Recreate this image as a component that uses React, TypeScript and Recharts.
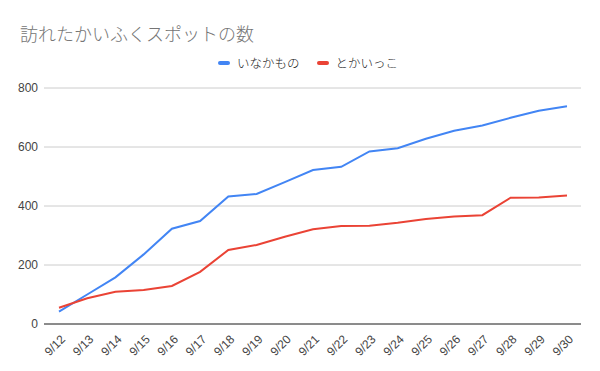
import { LineChart, Line, XAxis, YAxis, CartesianGrid } from "recharts";

const days = ["9/12", "9/13", "9/14", "9/15", "9/16", "9/17", "9/18", "9/19", "9/20", "9/21", "9/22", "9/23", "9/24", "9/25", "9/26", "9/27", "9/28", "9/29", "9/30"];
const inakamono = [42, 100, 158, 236, 323, 349, 432, 441, 481, 522, 533, 585, 596, 628, 655, 673, 699, 723, 738];
const tokaikko = [55, 87, 109, 115, 129, 177, 251, 268, 296, 321, 332, 333, 343, 356, 364, 369, 428, 429, 436];
const yTicks = [0, 200, 400, 600, 800];

const series = [
  { key: "inakamono", name: "いなかもの", color: "#4285F4" },
  { key: "tokaikko", name: "とかいっこ", color: "#EA4335" },
];

const data = days.map((d, i) => ({ day: d, inakamono: inakamono[i], tokaikko: tokaikko[i] }));

const font = "Roboto, 'Noto Sans CJK JP', sans-serif";
const axisFont = "'Liberation Sans', Arial, sans-serif";

function DayTick({ x, y, payload }: any) {
  return (
    <g transform={`translate(${x + 7},${y + 8})`}>
      <text textAnchor="end" transform="rotate(-45)" fontSize={12} fill="#444" fontFamily={axisFont}>
        {payload.value}
      </text>
    </g>
  );
}

export default function App() {
  return (
    <div style={{ position: "absolute", left: 0, top: 0, width: 600, height: 371, background: "#fff", fontFamily: font }}>
      <div style={{ position: "absolute", left: 20, top: 20, fontSize: 18, color: "#757575", fontWeight: 300 }}>訪れたかいふくスポットの数</div>
      <div style={{ position: "absolute", left: 218, top: 53, display: "flex", alignItems: "center", fontSize: 12.5, color: "#222", fontWeight: 300 }}>
        {series.map((s, i) => (
          <div key={s.key} style={{ display: "flex", alignItems: "center", marginLeft: i ? 17 : 0 }}>
            <span style={{ display: "inline-block", width: 12, height: 4, borderRadius: 2, background: s.color, marginRight: 7 }} />
            <span>{s.name}</span>
          </div>
        ))}
      </div>
      <LineChart width={600} height={371} data={data} margin={{ top: 88, right: 19, bottom: 7, left: 0 }}>
        <CartesianGrid vertical={false} stroke="#cccccc" />
        <XAxis
          dataKey="day"
          interval={0}
          height={40}
          tick={<DayTick />}
          tickLine={false}
          axisLine={{ stroke: "#333" }}
          padding={{ left: 15, right: 14 }}
        />
        <YAxis
          domain={[0, 800]}
          ticks={yTicks}
          width={44}
          axisLine={false}
          tickLine={false}
          tick={{ fontSize: 12, fill: "#444", fontFamily: axisFont }}
          tickMargin={0}
        />
        {series.map((s) => (
          <Line key={s.key} type="linear" dataKey={s.key} name={s.name} stroke={s.color} strokeWidth={2} dot={false} isAnimationActive={false} />
        ))}
      </LineChart>
    </div>
  );
}
